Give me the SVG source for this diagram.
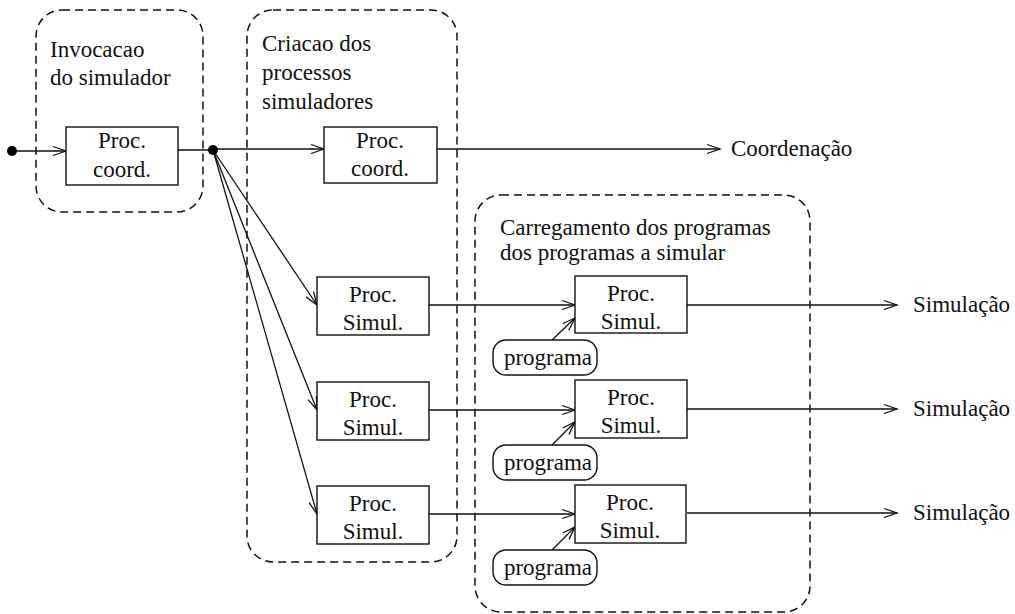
<svg xmlns="http://www.w3.org/2000/svg" width="1015" height="614" viewBox="0 0 1015 614">
<style>
text{font-family:"Liberation Serif","Times New Roman",Times,serif;font-size:23px;fill:#111}
.c{text-anchor:middle}
.box{fill:#fff;stroke:#111;stroke-width:1.4}
.grp{fill:none;stroke:#111;stroke-width:1.5;stroke-dasharray:8 5}
.ln{fill:none;stroke:#111;stroke-width:1.3}
.dot{fill:#000}
</style>
<defs>
<marker id="a" markerUnits="userSpaceOnUse" markerWidth="16" markerHeight="12" refX="14" refY="6" orient="auto">
<path d="M1,1.5 L14,6 L1,10.5" fill="none" stroke="#111" stroke-width="1.3"/>
</marker>
</defs>
<g id="groups">
<rect id="g-invocacao" class="grp" x="36" y="10" width="167" height="202" rx="26"/>
<rect id="g-criacao" class="grp" x="247" y="10" width="210" height="552" rx="26"/>
<rect id="g-carregamento" class="grp" x="475" y="195" width="335" height="417" rx="26"/>
<text x="50" y="57">Invocacao</text>
<text x="50" y="85">do simulador</text>
<text x="262" y="51">Criacao dos</text>
<text x="262" y="80">processos</text>
<text x="262" y="109">simuladores</text>
<text x="500" y="235">Carregamento dos programas</text>
<text x="500" y="260">dos programas a simular</text>
</g>
<g id="connectors">
<line class="ln" x1="12" y1="151" x2="66" y2="151" marker-end="url(#a)"/>
<line class="ln" x1="178" y1="150" x2="213" y2="150"/>
<line class="ln" x1="213" y1="149" x2="324" y2="149" marker-end="url(#a)"/>
<line class="ln" x1="213" y1="150" x2="317" y2="305" marker-end="url(#a)"/>
<line class="ln" x1="213" y1="150" x2="317" y2="410" marker-end="url(#a)"/>
<line class="ln" x1="213" y1="150" x2="317" y2="514" marker-end="url(#a)"/>
<line class="ln" x1="437" y1="149" x2="720" y2="149" marker-end="url(#a)"/>
<line class="ln" x1="429" y1="305" x2="575" y2="305" marker-end="url(#a)"/>
<line class="ln" x1="429" y1="410" x2="575" y2="410" marker-end="url(#a)"/>
<line class="ln" x1="429" y1="514" x2="575" y2="514" marker-end="url(#a)"/>
<line class="ln" x1="552" y1="340" x2="575" y2="318" marker-end="url(#a)"/>
<line class="ln" x1="552" y1="445" x2="575" y2="422" marker-end="url(#a)"/>
<line class="ln" x1="552" y1="550" x2="575" y2="527" marker-end="url(#a)"/>
<line class="ln" x1="687" y1="305" x2="897" y2="305" marker-end="url(#a)"/>
<line class="ln" x1="687" y1="409" x2="897" y2="409" marker-end="url(#a)"/>
<line class="ln" x1="687" y1="513" x2="897" y2="513" marker-end="url(#a)"/>
<circle class="dot" cx="12" cy="151" r="5"/>
<circle class="dot" cx="213" cy="150" r="5"/>
</g>
<g id="n-coord1">
<rect class="box" x="66" y="127" width="112" height="58"/>
<text class="c" x="122" y="148">Proc.</text>
<text class="c" x="122" y="177">coord.</text>
</g>
<g id="n-coord2">
<rect class="box" x="324" y="127" width="113" height="56"/>
<text class="c" x="380" y="148">Proc.</text>
<text class="c" x="380" y="176">coord.</text>
</g>
<g id="n-simA1">
<rect class="box" x="317" y="277" width="112" height="58"/>
<text class="c" x="373" y="302">Proc.</text>
<text class="c" x="373" y="330">Simul.</text>
</g>
<g id="n-simA2">
<rect class="box" x="317" y="382" width="112" height="58"/>
<text class="c" x="373" y="407">Proc.</text>
<text class="c" x="373" y="435">Simul.</text>
</g>
<g id="n-simA3">
<rect class="box" x="317" y="486" width="112" height="58"/>
<text class="c" x="373" y="511">Proc.</text>
<text class="c" x="373" y="539">Simul.</text>
</g>
<g id="n-simB1">
<rect class="box" x="575" y="276" width="112" height="57"/>
<text class="c" x="631" y="301">Proc.</text>
<text class="c" x="631" y="329">Simul.</text>
</g>
<g id="n-simB2">
<rect class="box" x="575" y="380" width="112" height="58"/>
<text class="c" x="631" y="405">Proc.</text>
<text class="c" x="631" y="433">Simul.</text>
</g>
<g id="n-simB3">
<rect class="box" x="575" y="485" width="111" height="58"/>
<text class="c" x="630" y="510">Proc.</text>
<text class="c" x="630" y="538">Simul.</text>
</g>
<g id="n-prog1">
<rect class="box" x="493" y="340" width="104" height="35" rx="13"/>
<text class="c" x="548" y="365">programa</text>
</g>
<g id="n-prog2">
<rect class="box" x="493" y="445" width="104" height="35" rx="13"/>
<text class="c" x="548" y="470">programa</text>
</g>
<g id="n-prog3">
<rect class="box" x="493" y="550" width="104" height="35" rx="13"/>
<text class="c" x="548" y="575">programa</text>
</g>
<g id="n-out">
<text x="731" y="156">Coordenação</text>
<text x="913" y="312">Simulação</text>
<text x="913" y="416">Simulação</text>
<text x="913" y="520">Simulação</text>
</g>
</svg>
